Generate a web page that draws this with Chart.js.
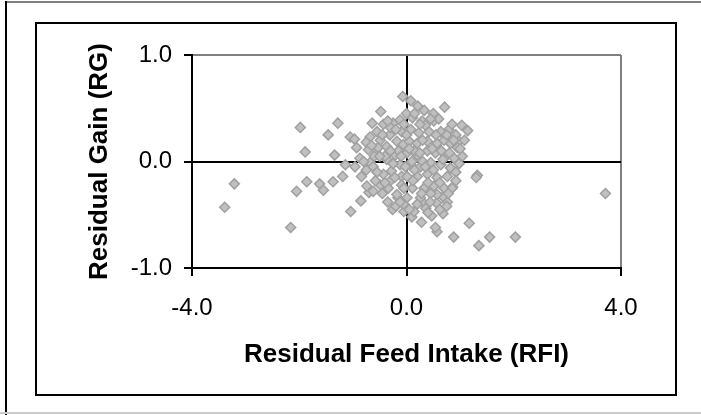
<!DOCTYPE html>
<html>
<head>
<meta charset="utf-8">
<script src="https://cdn.jsdelivr.net/npm/chart.js@4"></script>
<style>
  html, body { margin: 0; padding: 0; background: #fff; }
  #c { display: block; }
</style>
</head>
<body>
<canvas id="c" width="701" height="415"></canvas>
<script>
// Residual Feed Intake (RFI) values
const rfi = [
  -3.39,-3.21,-1.98,-1.89,-2.16,-2.05,-1.86,-1.62,-1.55,-1.46,-1.28,-1.34,-1.37,-1.19,-1.14,-1.04,-1.05,-0.97,-0.93,-0.85,
  -0.70,-0.74,-0.48,-0.07,0.08,0.21,0.33,0.71,1.03,1.14,1.32,1.30,3.71,1.17,0.57,0.88,1.35,1.55,2.03,0.68,
  0.47,0.28,0.10,-0.05,-0.26,0.14,0.30,0.56,0.76,0.86,0.68,-0.16,
  -0.64,-0.43,-0.25,-0.12,-0.68,-0.49,-0.31,-0.09,-0.71,-0.53,-0.37,-0.18,-0.06,-0.96,-0.87,-0.68,-0.62,-0.37,
  -0.21,-0.12,-0.84,-0.43,-0.28,-0.09,-0.49,-0.34,-0.18,-0.09,
  0.11,0.29,0.51,0.08,0.23,0.42,0.64,0.79,0.92,0.05,0.20,0.39,0.57,0.82,0.98,0.95,0.01,0.20,0.39,0.54,
  0.73,0.89,1.04,0.08,0.26,0.45,0.64,0.82,0.01,0.20,0.39,0.57,0.76,0.11,0.33,0.51,0.70,0.85,0.01,0.26,
  0.57,0.36,0.54,
  -0.55,-0.40,-0.25,-0.15,0.00,0.15,0.30,0.48,0.65,0.70,0.30,0.15,-0.02,-0.30,-0.55,-0.60,-0.80,0.45,0.20,-0.05,
  0.62,0.35,-0.30,0.00,0.92,0.98,-0.75,0.50,0.60,0.85,-0.45,0.40,0.10,-0.20,0.75,
  -0.45,-0.35,-0.20,-0.05,0.15,0.25,0.45,0.55,0.75,0.88,1.00,1.08,-0.65,-0.50,-0.30,-0.10,0.05,0.25,0.35,0.50,
  0.68,0.80,-0.75,-0.58,-0.40,-0.22,-0.05,0.12,0.28,0.44,0.62,0.78,-0.35,-0.12,0.05,0.40,-0.62,0.92
];
// Residual Gain (RG) values, same order
const rg = [
  -0.43,-0.21,0.32,0.09,-0.62,-0.28,-0.19,-0.21,-0.27,0.25,0.36,0.06,-0.19,-0.14,-0.03,-0.47,0.23,0.21,0.13,-0.37,
  -0.29,-0.23,0.47,0.61,0.57,0.52,0.48,0.51,0.34,0.29,-0.13,-0.15,-0.30,-0.58,-0.66,-0.71,-0.79,-0.71,-0.71,-0.49,
  -0.51,-0.57,-0.52,-0.47,-0.45,-0.47,-0.38,-0.39,-0.38,-0.24,-0.33,-0.34,
  0.36,0.35,0.36,0.39,0.23,0.20,0.25,0.28,0.11,0.13,0.14,0.19,0.16,-0.05,0.03,-0.01,-0.05,0.02,
  0.06,-0.03,-0.14,-0.12,-0.09,-0.14,-0.22,-0.25,-0.31,-0.22,
  0.41,0.38,0.38,0.30,0.27,0.28,0.28,0.30,0.25,0.19,0.17,0.19,0.17,0.17,0.19,0.13,0.08,0.06,0.10,0.08,
  0.05,0.03,0.05,-0.03,-0.05,-0.01,-0.03,-0.06,-0.14,-0.14,-0.12,-0.15,-0.14,-0.25,-0.25,-0.23,-0.25,-0.25,-0.34,-0.34,
  -0.31,-0.44,-0.62,
  0.28,0.05,-0.02,0.10,0.25,0.10,0.00,0.12,0.10,0.20,0.20,-0.08,-0.05,-0.18,-0.10,0.05,0.00,-0.30,-0.40,-0.40,
  -0.45,0.34,0.32,0.45,-0.10,-0.02,0.18,0.45,0.40,0.35,-0.30,-0.20,0.00,-0.42,-0.42,
  0.25,0.38,0.30,0.35,0.45,0.35,0.40,0.25,0.25,0.20,0.12,0.20,0.15,0.05,0.10,0.05,0.12,0.08,-0.05,-0.08,
  0.02,0.08,-0.08,-0.18,-0.20,-0.15,-0.25,-0.18,-0.30,-0.38,-0.20,-0.30,-0.38,-0.38,-0.45,-0.48,-0.28,-0.18
];
const xTicks = [-4, 0, 4];
const yTicks = [-1, 0, 1];
const xTitle = 'Residual Feed Intake (RFI)';
const yTitle = 'Residual Gain (RG)';

const points = rfi.map((x, i) => ({ x: x, y: rg[i] }));

const framePlugin = {
  id: 'frames',
  beforeDraw(chart) {
    const ctx = chart.ctx;
    ctx.save();
    ctx.fillStyle = '#ffffff';
    ctx.fillRect(0, 0, chart.width, chart.height);
    ctx.strokeStyle = '#808080';
    ctx.lineWidth = 2;
    ctx.beginPath(); ctx.moveTo(5, 2); ctx.lineTo(701, 2); ctx.stroke();
    ctx.strokeStyle = '#000000';
    ctx.beginPath(); ctx.moveTo(6, 1); ctx.lineTo(6, 415); ctx.stroke();
    ctx.strokeStyle = '#cccccc';
    ctx.beginPath(); ctx.moveTo(0, 413); ctx.lineTo(701, 413); ctx.stroke();
    ctx.strokeStyle = '#000000';
    ctx.lineWidth = 2;
    ctx.strokeRect(36, 23, 640, 372);
    ctx.restore();
  }
};

const gridColor = (maxVal) => (c) => {
  const v = c.tick.value;
  if (v === 0) return '#000000';
  if (v === maxVal) return '#808080';
  return 'rgba(0,0,0,0)';
};

const FONT = 'Liberation Sans, Arial, sans-serif';

new Chart(document.getElementById('c'), {
  type: 'scatter',
  data: {
    datasets: [{
      data: points,
      pointStyle: 'rectRot',
      pointRadius: 5,
      pointHoverRadius: 5,
      backgroundColor: '#c0c0c0',
      borderColor: '#a0a0a0',
      borderWidth: 1.5
    }]
  },
  plugins: [framePlugin],
  options: {
    responsive: false,
    devicePixelRatio: 1,
    animation: false,
    events: [],
    layout: { padding: { left: 36, top: 55, right: 80, bottom: 20 } },
    plugins: { legend: { display: false }, tooltip: { enabled: false } },
    scales: {
      x: {
        type: 'linear',
        min: -4, max: 4,
        afterBuildTicks: (s) => { s.ticks = xTicks.map(v => ({ value: v })); },
        afterFit: (s) => { s.height = 127; },
        ticks: {
          callback: (v) => Number(v).toFixed(1),
          color: '#000',
          font: { family: FONT, size: 24 },
          padding: 18,
          maxRotation: 0
        },
        grid: { color: gridColor(4), lineWidth: 2, tickColor: '#000', tickLength: 8 },
        border: { display: true, color: '#000', width: 2 },
        title: {
          display: true, text: xTitle, color: '#000',
          font: { family: FONT, size: 26, weight: 'bold' },
          padding: { top: 0, bottom: 25 }
        }
      },
      y: {
        type: 'linear',
        min: -1, max: 1,
        afterBuildTicks: (s) => { s.ticks = yTicks.map(v => ({ value: v })); },
        afterFit: (s) => { s.width = 156; },
        ticks: {
          callback: (v) => Number(v).toFixed(1),
          color: '#000',
          font: { family: FONT, size: 24 },
          padding: 12
        },
        grid: { color: gridColor(1), lineWidth: 2, tickColor: '#000', tickLength: 8 },
        border: { display: true, color: '#000', width: 2 },
        title: {
          display: true, text: yTitle, color: '#000',
          font: { family: FONT, size: 26, weight: 'bold' },
          padding: { top: 48, bottom: 0 }
        }
      }
    }
  }
});
</script>
</body>
</html>
